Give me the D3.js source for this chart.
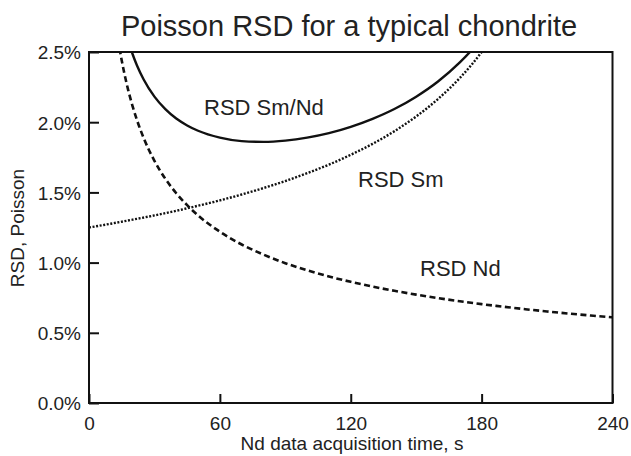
<!DOCTYPE html>
<html>
<head>
<meta charset="utf-8">
<script src="https://cdn.jsdelivr.net/npm/d3@7/dist/d3.min.js"></script>
<style>
  html, body { margin: 0; padding: 0; background: #fff; }
  svg { display: block; font-family: "Liberation Sans", Arial, Helvetica, sans-serif; }
  text { fill: #222; }
</style>
</head>
<body>
<div id="chart"></div>
<script>
// Nd counting time (s) and Poisson RSD (%) for Nd
const ndTime  = [12, 14, 16, 18, 20, 22, 25, 30, 35, 40, 45, 50, 60, 70, 80, 90, 100, 110, 120, 130, 140, 150, 160, 170, 180, 190, 200, 210, 220, 230, 240];
const ndRsd   = [2.728, 2.526, 2.363, 2.227, 2.113, 2.015, 1.890, 1.725, 1.597, 1.494, 1.409, 1.336, 1.220, 1.129, 1.057, 0.996, 0.945, 0.901, 0.863, 0.829, 0.799, 0.772, 0.747, 0.725, 0.704, 0.686, 0.668, 0.652, 0.637, 0.623, 0.610];

// Sm RSD (%) against the same Nd counting time
const smTime  = [0, 10, 20, 30, 40, 50, 60, 70, 80, 90, 100, 110, 120, 130, 140, 150, 160, 170, 175, 180, 185];
const smRsd   = [1.250, 1.277, 1.306, 1.336, 1.369, 1.405, 1.443, 1.485, 1.531, 1.581, 1.637, 1.698, 1.768, 1.846, 1.936, 2.041, 2.165, 2.315, 2.402, 2.500, 2.611];

// Combined Sm/Nd ratio RSD (%)
const ratioTime = [16, 18, 20, 22, 25, 30, 35, 40, 45, 50, 60, 70, 80, 90, 100, 110, 120, 130, 140, 150, 160, 170, 175, 180];
const ratioRsd  = [2.694, 2.579, 2.484, 2.404, 2.306, 2.182, 2.093, 2.026, 1.977, 1.939, 1.890, 1.865, 1.860, 1.869, 1.890, 1.922, 1.967, 2.024, 2.094, 2.182, 2.290, 2.426, 2.506, 2.597];

const xTicks = [0, 60, 120, 180, 240];
const yTicks = [0, 0.5, 1.0, 1.5, 2.0, 2.5];

const W = 631, H = 456;
const plotL = 89, plotR = 612.5, plotT = 52, plotB = 403;

const svg = d3.select("#chart").append("svg").attr("width", W).attr("height", H);

const x = d3.scaleLinear().domain([0, 240]).range([plotL, plotR]);
const y = d3.scaleLinear().domain([0, 2.5]).range([plotB, plotT]);

svg.append("defs").append("clipPath").attr("id", "plot")
  .append("rect").attr("x", plotL).attr("y", plotT)
  .attr("width", plotR - plotL).attr("height", plotB - plotT);

// Title
svg.append("text")
  .attr("x", 349).attr("y", 36)
  .attr("text-anchor", "middle")
  .style("font-size", "29px")
  .text("Poisson RSD for a typical chondrite");

// Axes with inward ticks
const xAxis = d3.axisBottom(x).tickValues(xTicks).tickSize(-9).tickPadding(14).tickFormat(d3.format("d"));
const yAxis = d3.axisLeft(y).tickValues(yTicks).tickSize(-10).tickPadding(8).tickFormat(d => d3.format(".1f")(d) + "%");

const gx = svg.append("g").attr("transform", `translate(0,${plotB})`).call(xAxis);
const gy = svg.append("g").attr("transform", `translate(${plotL},0)`).call(yAxis);

[gx, gy].forEach(g => {
  g.select(".domain").remove();
  g.selectAll(".tick line").attr("stroke", "#111").attr("stroke-width", 2);
  g.selectAll(".tick text").style("font-size", "19px").attr("fill", "#222").style("font-family", "inherit");
});
gy.selectAll(".tick text").attr("dy", "0.36em");

// Plot frame
svg.append("rect")
  .attr("x", plotL).attr("y", plotT)
  .attr("width", plotR - plotL).attr("height", plotB - plotT)
  .attr("fill", "none").attr("stroke", "#111").attr("stroke-width", 2);

// Axis titles
svg.append("text")
  .attr("x", 352).attr("y", 450)
  .attr("text-anchor", "middle")
  .style("font-size", "19px")
  .text("Nd data acquisition time, s");

svg.append("text")
  .attr("transform", "translate(24,228) rotate(-90)")
  .attr("text-anchor", "middle")
  .style("font-size", "19px")
  .text("RSD, Poisson");

// Curves
const line = d3.line().x(d => x(d[0])).y(d => y(d[1])).curve(d3.curveMonotoneX);
const curves = svg.append("g").attr("clip-path", "url(#plot)");

curves.append("path")
  .datum(d3.zip(ndTime, ndRsd))
  .attr("d", line)
  .attr("fill", "none").attr("stroke", "#111")
  .attr("stroke-width", 2.6).attr("stroke-dasharray", "6,3.5");

curves.append("path")
  .datum(d3.zip(smTime, smRsd))
  .attr("d", line)
  .attr("fill", "none").attr("stroke", "#111")
  .attr("stroke-width", 2.4).attr("stroke-dasharray", "2,1.6");

curves.append("path")
  .datum(d3.zip(ratioTime, ratioRsd))
  .attr("d", line)
  .attr("fill", "none").attr("stroke", "#111")
  .attr("stroke-width", 2.4);

// Curve labels
const labels = [
  { text: "RSD Sm/Nd", x: 204, y: 114.5 },
  { text: "RSD Sm", x: 358, y: 187 },
  { text: "RSD Nd", x: 420, y: 276 }
];
svg.append("g").selectAll("text").data(labels).join("text")
  .attr("x", d => d.x).attr("y", d => d.y)
  .style("font-size", "22px")
  .text(d => d.text);
</script>
</body>
</html>
